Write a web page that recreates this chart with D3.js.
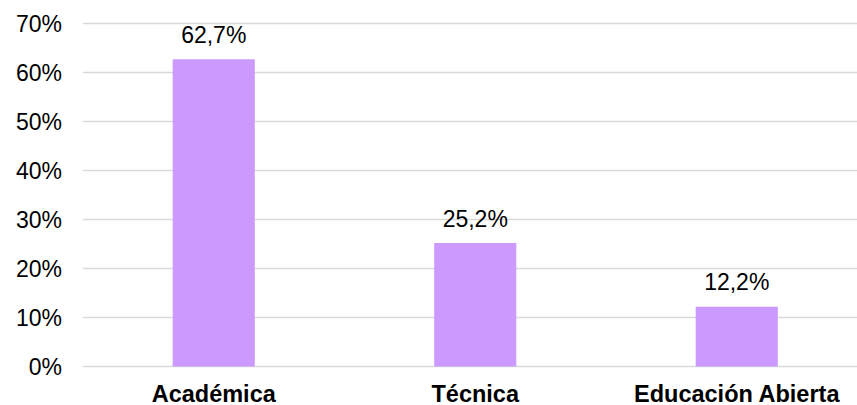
<!DOCTYPE html>
<html><head><meta charset="utf-8">
<script src="https://cdn.jsdelivr.net/npm/d3@7"></script>
<style>body{margin:0;background:#fff}svg{display:block}</style>
</head><body>
<script>
const categories = ["Académica", "Técnica", "Educación Abierta"];
const values = [62.7, 25.2, 12.2];
const valueLabels = ["62,7%", "25,2%", "12,2%"];
const yTicks = [0, 10, 20, 30, 40, 50, 60, 70];

const W = 857, H = 405;
const svg = d3.select("body").append("svg").attr("width", W).attr("height", H);
const x = d3.scaleBand().domain(categories).range([83, 867.5]).paddingInner(0.686).paddingOuter(0.343);
const y = d3.scaleLinear().domain([0, 70]).range([366.5, 23.5]);
const font = "Liberation Sans, Arial, sans-serif";

svg.append("g").selectAll("line").data(yTicks).join("line")
  .attr("x1", 83).attr("x2", W).attr("y1", d => y(d)).attr("y2", d => y(d))
  .attr("stroke", "#d9d9d9").attr("stroke-width", 1.3);

svg.append("g").selectAll("text").data(yTicks).join("text")
  .attr("x", 62).attr("y", d => y(d)).attr("dy", "0.35em")
  .attr("text-anchor", "end").attr("font-family", font).attr("font-size", 23)
  .attr("fill", "#000").text(d => d + "%");

svg.append("g").selectAll("rect").data(values).join("rect")
  .attr("x", (d, i) => x(categories[i])).attr("width", x.bandwidth())
  .attr("y", d => y(d)).attr("height", d => y(0) - y(d)).attr("fill", "#cc99ff");

svg.append("g").selectAll("text").data(values).join("text")
  .attr("x", (d, i) => x(categories[i]) + x.bandwidth() / 2).attr("y", d => y(d) - 16.5)
  .attr("text-anchor", "middle").attr("font-family", font).attr("font-size", 23)
  .attr("fill", "#000").text((d, i) => valueLabels[i]);

svg.append("g").selectAll("text").data(categories).join("text")
  .attr("x", d => x(d) + x.bandwidth() / 2).attr("y", 401.5)
  .attr("text-anchor", "middle").attr("font-family", font).attr("font-size", 23.5)
  .attr("font-weight", "bold").attr("fill", "#000").text(d => d);
</script>
</body></html>
